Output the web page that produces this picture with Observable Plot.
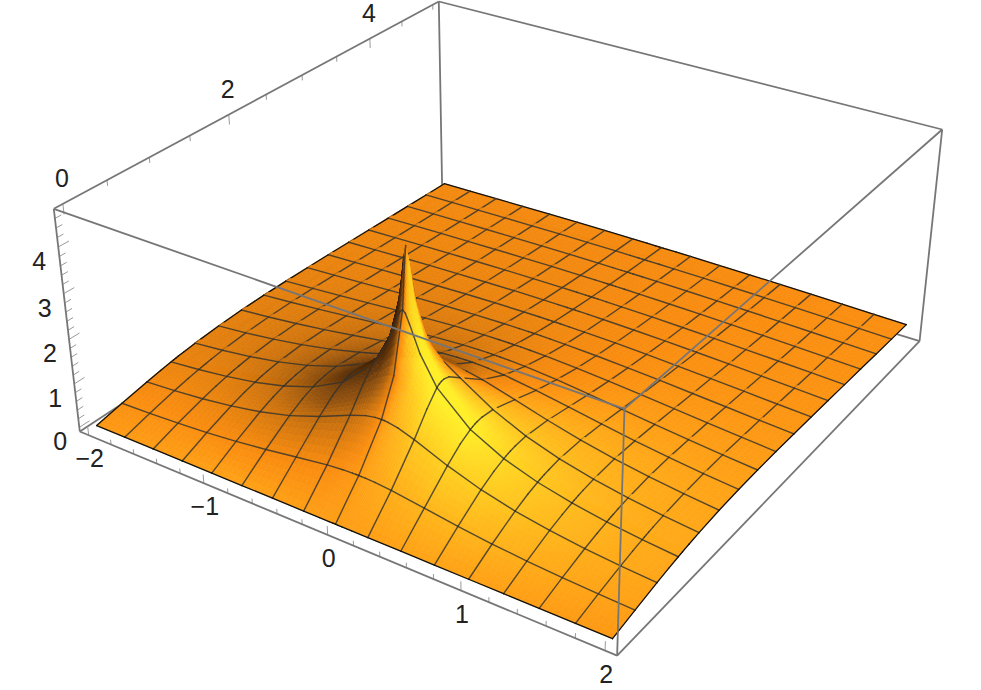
<!DOCTYPE html>
<html>
<head>
<meta charset="utf-8">
<script src="https://cdn.jsdelivr.net/npm/d3@7"></script>
<script src="https://cdn.jsdelivr.net/npm/@observablehq/plot@0.6"></script>
<style>html,body{margin:0;padding:0;background:#fff}svg{display:block}</style>
</head>
<body>
<div id="chart"></div>
<script>
// Left half of the surface (x <= 0); the picture is mirror-symmetric about x = 0.
const xValues = [-2,-1.75,-1.5,-1.25,-1,-0.75,-0.5,-0.25,-0.125,-0.05,-0.02,0];
const yValues = [0,0.3125,0.625,0.8,0.9375,0.97,1,1.03,1.1,1.25,1.5625,1.875,2.1875,2.5,2.8125,3.125,3.4375,3.75,4.0625,4.375,4.6875,5];
const zRows = [
[0,0,0,0,0,0,0,0,0,0,0,0],
[.123,.151,.189,.239,.307,.396,.502,.602,.635,.645,.646,.647],
[.236,.288,.358,.452,.580,.758,1.001,1.294,1.417,1.458,1.465,1.466],
[.292,.354,.437,.549,.703,.921,1.244,1.736,2.035,2.167,2.192,2.197],
[.330,.399,.490,.611,.778,1.015,1.379,2.026,2.631,3.188,3.386,3.435],
[.339,.409,.501,.624,.792,1.033,1.401,2.065,2.731,3.52,4.00,4.18],
[.347,.418,.511,.635,.805,1.047,1.417,2.087,2.774,3.689,4.4,4.7],
[.354,.426,.520,.645,.816,1.059,1.429,2.095,2.761,3.55,4.03,4.21],
[.370,.444,.540,.667,.839,1.081,1.443,2.061,2.576,2.933,3.025,3.045],
[.401,.478,.576,.703,.871,1.099,1.417,1.857,2.087,2.178,2.194,2.197],
[.448,.524,.617,.732,.874,1.047,1.244,1.431,1.493,1.513,1.516,1.516],
[.473,.542,.625,.720,.829,.947,1.063,1.154,1.180,1.188,1.189,1.190],
[.481,.542,.610,.686,.766,.847,.918,.969,.983,.987,.987,.987],
[.478,.529,.585,.644,.703,.758,.805,.836,.844,.847,.847,.847],
[.467,.510,.555,.600,.644,.684,.715,.736,.742,.743,.744,.744],
[.452,.487,.523,.559,.592,.621,.644,.658,.662,.663,.663,.663],
[.434,.464,.493,.521,.546,.568,.585,.595,.598,.599,.599,.599],
[.416,.440,.464,.486,.506,.523,.536,.544,.546,.547,.547,.547],
[.398,.418,.437,.455,.471,.484,.494,.501,.502,.503,.503,.503],
[.380,.397,.413,.427,.440,.451,.459,.464,.465,.465,.465,.465],
[.363,.377,.390,.403,.413,.422,.428,.432,.433,.433,.433,.433],
[.347,.359,.370,.380,.389,.396,.401,.404,.405,.405,.405,.405]
];
const xTicks = d3.range(-10,11).map(k => k/5);
const xLabels = [-2,-1,0,1,2];
const yTicks = d3.range(0,11).map(k => k/2);
const yLabels = [0,2,4];
const zTicks = d3.range(0,24).map(k => k/5);
const zLabels = [0,1,2,3,4];
const xBox = [-2.08,2.08], yBox = [-0.1,5.1], zBox = [-0.095,4.8];
const shadeStops = [-0.3,0.1,0.3,0.45,0.53,0.58,0.65,0.75,0.88,0.97];
const shadeColors = ["#341a05","#63360b","#94530f","#d0750f","#ea840f","#fa8d10","#ffa016","#ffb81c","#ffd823","#ffee28"];

// Camera of the 3D view
const camX = [53.3,475.58,485.76,30.76], camY = [208.3,137.76,-207.07,248.56], camD = [1,-0.15243,0.22989,0.06];
function project(x,y,z){
  const u=(x-xBox[0])/(xBox[1]-xBox[0]), v=(y-yBox[0])/(yBox[1]-yBox[0]), w=1-(z-zBox[0])/(zBox[1]-zBox[0]);
  const d=camD[0]+camD[1]*u+camD[2]*v+camD[3]*w;
  return {px:(camX[0]+camX[1]*u+camX[2]*v+camX[3]*w)/d, py:(camY[0]+camY[1]*u+camY[2]*v+camY[3]*w)/d, depth:d};
}
const shadeColor = d3.scaleLinear().domain(shadeStops).range(shadeColors).clamp(true);

// whole table
const xs = xValues.concat(xValues.slice(0,-1).reverse().map(v=>-v));
const zs = zRows.map(r => r.concat(r.slice(0,-1).reverse()));
const nx = xs.length, ny = yValues.length;
const light = [0.78,-0.31,0.58], sx=0.34, sy=0.42;
const nodes = yValues.map((y,j)=>xs.map((x,i)=>{
  const il=Math.max(i-1,0), ir=Math.min(i+1,nx-1), jl=Math.max(j-1,0), jr=Math.min(j+1,ny-1);
  const gx=(zs[j][ir]-zs[j][il])/(xs[ir]-xs[il])*sx, gy=(zs[jr][i]-zs[jl][i])/(yValues[jr]-yValues[jl])*sy;
  const n=Math.hypot(gx,gy,1);
  return {...project(x,y,zs[j][i]), s:(-gx*light[0]-gy*light[1]+light[2])/n};
}));

const isMeshX = x => Number.isInteger(x*4);
const isMeshY = y => Number.isInteger(y/0.3125);
const shapes = [];
for(let j=0;j<ny-1;j++)for(let i=0;i<nx-1;i++){
  const a=nodes[j][i],b=nodes[j][i+1],c=nodes[j+1][i+1],d=nodes[j+1][i];
  const size=Math.max(Math.hypot(a.px-b.px,a.py-b.py),Math.hypot(a.px-d.px,a.py-d.py));
  const m=Math.max(1,Math.min(6,Math.ceil(size/6)));
  const at=(f,g,k)=>(1-g)*((1-f)*a[k]+f*b[k])+g*((1-f)*d[k]+f*c[k]);
  for(let q=0;q<m;q++)for(let p=0;p<m;p++){
    const f0=p/m,f1=(p+1)/m,g0=q/m,g1=(q+1)/m,fm=(p+.5)/m,gm=(q+.5)/m;
    const col=shadeColor(at(fm,gm,"s"));
    shapes.push({depth:at(fm,gm,"depth"),fill:col,stroke:col,sw:0.7,
      pts:[[f0,g0],[f1,g0],[f1,g1],[f0,g1]].map(([f,g])=>[at(f,g,"px"),at(f,g,"py")])});
  }
}
function meshSeg(n1,n2,edge,hidden){
  shapes.push({depth:(n1.depth+n2.depth)/2+(hidden?0.03:-0.006),fill:"none",stroke:edge?"#111111":"rgba(50,50,45,0.82)",sw:edge?1.3:1.4,
    pts:[[n1.px,n1.py],[n2.px,n2.py]]});
}
for(let j=0;j<ny;j++) if(isMeshY(yValues[j])) for(let i=0;i<nx-1;i++) meshSeg(nodes[j][i],nodes[j][i+1],j===0||j===ny-1,false);
for(let i=0;i<nx;i++) if(isMeshX(xs[i])) for(let j=0;j<ny-1;j++){
  // the centre line behind the peak sits on the far side of the cusp
  const behind=xs[i]===0&&yValues[j]>=1&&yValues[j]<1.25;
  meshSeg(nodes[j][i],nodes[j+1][i],i===0||i===nx-1,behind);
}
shapes.sort((a,b)=>b.depth-a.depth);
const rows=[];
shapes.forEach((s,id)=>s.pts.forEach(([px,py])=>rows.push({id,px,py,fill:s.fill,stroke:s.stroke,sw:s.sw})));

// box
const edge=(a,b)=>{const p=project(...a),q=project(...b);return {x1:p.px,y1:p.py,x2:q.px,y2:q.py};};
const [x0,x1]=xBox,[y0,y1]=yBox,[z0,z1]=zBox;
const backEdges=[[[x0,y0,z0],[x0,y1,z0]],[[x0,y1,z0],[x1,y1,z0]],[[x0,y1,z0],[x0,y1,z1]]].map(e=>edge(...e));
const frontEdges=[[[x0,y0,z0],[x1,y0,z0]],[[x1,y0,z0],[x1,y1,z0]],
  [[x0,y0,z1],[x1,y0,z1]],[[x1,y0,z1],[x1,y1,z1]],[[x0,y0,z1],[x0,y1,z1]],[[x0,y1,z1],[x1,y1,z1]],
  [[x0,y0,z0],[x0,y0,z1]],[[x1,y0,z0],[x1,y0,z1]],[[x1,y1,z0],[x1,y1,z1]]].map(e=>edge(...e));

const has=(list,v)=>list.some(l=>Math.abs(l-v)<1e-9);
const ticks=[
  ...xTicks.map(t=>edge([t,y0,z0],[t,y0,z0+(has(xLabels,t)?0.2:0.11)])),
  ...yTicks.map(t=>edge([x0,t,z1],[x0,t,z1-(has(yLabels,t)?0.22:0.12)])),
  ...zTicks.map(t=>edge([x0,y0,t],[x0,y0+(has(zLabels,t)?0.12:0.07),t]))
];
const labelOf=v=>String(v).replace("-","\u2212");
const xText=xLabels.map(t=>({...project(t,y0,z0),label:labelOf(t)}));
const yText=yLabels.map(t=>({...project(x0,t,z1),label:labelOf(t)}));
const zText=zLabels.map(t=>({...project(x0,y0,t),label:labelOf(t)}));
const textOpts={x:"px",y:"py",text:"label",fontSize:25,fill:"#222222"};
const boxOpts={x1:"x1",y1:"y1",x2:"x2",y2:"y2",stroke:"#767676",strokeWidth:1.8};

const chart=Plot.plot({
  width:981,height:690,margin:0,
  style:{fontFamily:"'Liberation Sans',Arial,sans-serif",background:"#fff"},
  x:{domain:[0,981],range:[0,981],axis:null},
  y:{domain:[0,690],range:[0,690],axis:null},
  color:{type:"identity"},
  marks:[
    Plot.link(backEdges,boxOpts),
    Plot.line(rows,{x:"px",y:"py",z:"id",fill:"fill",stroke:"stroke",strokeWidth:"sw",curve:"linear-closed"}),
    Plot.link(ticks,{x1:"x1",y1:"y1",x2:"x2",y2:"y2",stroke:"#9a9a9a",strokeWidth:1}),
    Plot.link(frontEdges,boxOpts),
    Plot.text(xText,{...textOpts,dx:1,dy:24}),
    Plot.text(yText,{...textOpts,dx:-1,dy:-25}),
    Plot.text(zText,{...textOpts,dx:-19,dy:15})
  ]
});
document.getElementById("chart").append(chart);
</script>
</body>
</html>
